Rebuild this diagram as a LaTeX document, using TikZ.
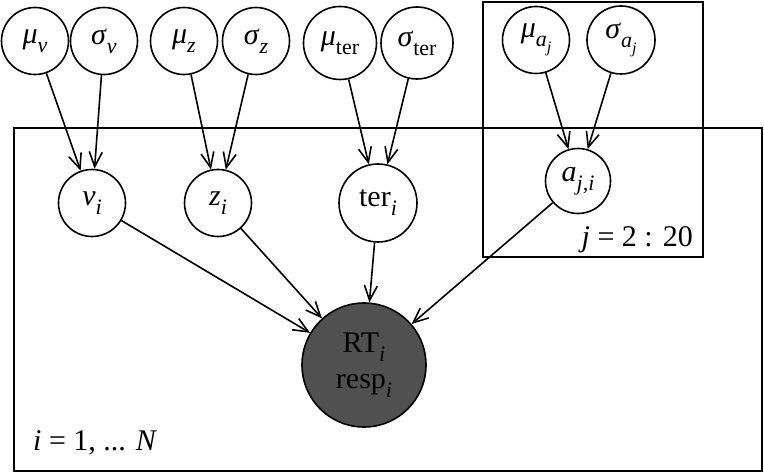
\documentclass[tikz,border=0pt]{standalone}
\usepackage{fontspec}
\setmainfont{Liberation Serif}
\usetikzlibrary{arrows.meta}
\newcommand{\sbs}[1]{\raisebox{-0.3em}{\fontsize{22pt}{22pt}\selectfont #1}}
\newcommand{\ssbs}[1]{\raisebox{-0.25em}{\fontsize{16pt}{16pt}\selectfont #1}}
\begin{document}
\begin{tikzpicture}[x=1pt,y=-1pt,
  font=\fontsize{30pt}{33pt}\selectfont,
  var/.style={circle,draw,line width=1.6pt,inner sep=0pt,fill=white},
  obs/.style={var,fill={rgb,255:red,80;green,80;blue,80},align=center},
  edge/.style={-{Straight Barb[length=15pt,width=13pt]},line width=1.6pt},
  plate/.style={draw,line width=1.6pt},
  lbl/.style={inner sep=0pt}]
\useasboundingbox (0,0) rectangle (764,473);
% plates
\draw[plate] (14,128) rectangle (762,471);
\draw[plate] (483,2) rectangle (703,257);
% nodes
\node[var,minimum size=67pt] (muv) at (35,41) {\textit{μ}\sbs{\textit{v}}};
\node[var,minimum size=67pt] (sigv) at (104,41) {\textit{σ}\sbs{\textit{v}}};
\node[var,minimum size=67pt] (muz) at (184,41) {\textit{μ}\sbs{\textit{z}}};
\node[var,minimum size=67pt] (sigz) at (256,41) {\textit{σ}\sbs{\textit{z}}};
\node[var,minimum size=73pt] (muter) at (340,43) {\textit{μ}\sbs{ter}};
\node[var,minimum size=72pt] (sigter) at (417,43) {\textit{σ}\sbs{ter}};
\node[var,minimum size=67pt] (mua) at (536,40) {\textit{μ}\sbs{\textit{a}\ssbs{\textit{j}}}};
\node[var,minimum size=68pt] (siga) at (621,40) {\textit{σ}\sbs{\textit{a}\ssbs{\textit{j}}}};
\node[var,minimum size=67pt] (v) at (92,203) {\textit{v}\sbs{\textit{i}}};
\node[var,minimum size=67pt] (z) at (218,203) {\textit{z}\sbs{\textit{i}}};
\node[var,minimum size=78pt] (ter) at (378,203) {ter\sbs{\textit{i}}};
\node[var,minimum size=65pt] (a) at (578,181) {\textit{a}\sbs{\textit{j,i}}};
\node[obs,minimum size=124pt] (rt) at (364,365) {RT\sbs{\textit{i}}\\[3pt]resp\sbs{\textit{i}}};
% labels
\node[lbl,anchor=base east] (jlab) at (693,247) {\textit{j} = 2 : 20};
\node[lbl,anchor=base west] (ilab) at (33,450) {\textit{i} = 1, ... \textit{N}};
% edges
\draw[edge] (muv) -- (v);
\draw[edge] (sigv) -- (v);
\draw[edge] (muz) -- (z);
\draw[edge] (sigz) -- (z);
\draw[edge] (muter) -- (ter);
\draw[edge] (sigter) -- (ter);
\draw[edge] (mua) -- (a);
\draw[edge] (siga) -- (a);
\draw[edge] (v) -- (rt);
\draw[edge] (z) -- (rt);
\draw[edge] (ter) -- (rt);
\draw[edge] (a) -- (rt);
\end{tikzpicture}
\end{document}
